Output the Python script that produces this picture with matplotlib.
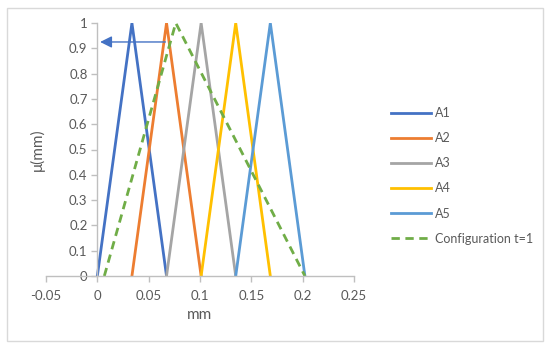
import matplotlib
matplotlib.use("Agg")
import matplotlib.pyplot as plt
from matplotlib.patches import Rectangle

plt.rcParams['font.family'] = ['Lato', 'DejaVu Sans']

# triangular membership functions (x points, mu points)
x_a1 = [0.0, 0.0337, 0.0674]
x_a2 = [0.0337, 0.0674, 0.1011]
x_a3 = [0.0674, 0.1011, 0.1348]
x_a4 = [0.1011, 0.1348, 0.1685]
x_a5 = [0.1348, 0.1685, 0.2022]
mu_tri = [0, 1, 0]

x_conf = [0.0068, 0.0764, 0.2022]
mu_conf = [0, 1, 0]

arrow_y = 0.925
arrow_x_start = 0.069

names = ['A1', 'A2', 'A3', 'A4', 'A5']
colors = ['#4472C4', '#ED7D31', '#A5A5A5', '#FFC000', '#5B9BD5']
conf_color = '#70AD47'

x_ticks = [-0.05, 0, 0.05, 0.1, 0.15, 0.2, 0.25]
x_tick_labels = ['-0.05', '0', '0.05', '0.1', '0.15', '0.2', '0.25']
y_ticks = [0, 0.1, 0.2, 0.3, 0.4, 0.5, 0.6, 0.7, 0.8, 0.9, 1]
y_tick_labels = ['0', '0.1', '0.2', '0.3', '0.4', '0.5', '0.6', '0.7', '0.8', '0.9', '1']

W, H = 550, 348
fig = plt.figure(figsize=(W / 100, H / 100), dpi=100)
fig.patches.append(Rectangle((7 / W, 7 / H), 536 / W, 333 / H, transform=fig.transFigure,
                             fill=False, edgecolor='#D9D9D9', lw=1))

ax = fig.add_axes([46 / W, 72 / H, 308 / W, 253 / H])

for xs, name, c in zip([x_a1, x_a2, x_a3, x_a4, x_a5], names, colors):
    ax.plot(xs, mu_tri, color=c, lw=2, label=name)
ax.plot(x_conf, mu_conf, color=conf_color, lw=2, ls=(0, (3, 2)), label='Configuration t=1')

ax.annotate('', xy=(0, arrow_y), xytext=(arrow_x_start, arrow_y),
            arrowprops=dict(arrowstyle='-|>,head_length=0.7,head_width=0.35', color='#4472C4', lw=1))

ax.set_xlim(-0.05, 0.25)
ax.set_ylim(0, 1)
ax.set_xticks(x_ticks)
ax.set_xticklabels(x_tick_labels)
ax.set_yticks(y_ticks)
ax.set_yticklabels(y_tick_labels)

for s in ['top', 'right']:
    ax.spines[s].set_visible(False)
ax.spines['left'].set_position(('data', 0))
ax.spines['bottom'].set_position(('data', 0))
for s in ['left', 'bottom']:
    ax.spines[s].set_color('#BFBFBF')
    ax.spines[s].set_linewidth(1)
ax.tick_params(axis='both', colors='#BFBFBF', labelcolor='#595959', labelsize=9.5, length=4, width=1)
ax.tick_params(axis='x', pad=6)
ax.tick_params(axis='y', pad=3)

fig.text(37 / W, 1 - 150 / H, 'μ(mm)', rotation=90, ha='center', va='center', fontsize=11, color='#595959')
fig.text(200 / W, 1 - 315 / H, 'mm', ha='center', va='center', fontsize=11, color='#595959')

leg = ax.legend(loc='upper left', bbox_to_anchor=(386 / W, 1 - 102 / H), bbox_transform=fig.transFigure,
                frameon=False, fontsize=9, handlelength=3.2, handletextpad=0.3, labelspacing=1.05,
                borderaxespad=0)
for t in leg.get_texts():
    t.set_color('#595959')

fig.savefig('out.png', dpi=100)
